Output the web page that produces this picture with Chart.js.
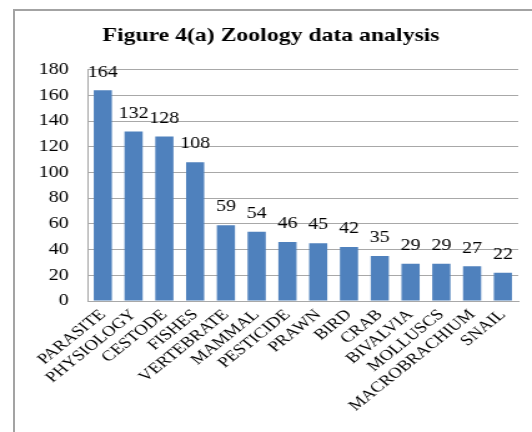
<!DOCTYPE html>
<html>
<head>
<meta charset="utf-8">
<script src="https://cdn.jsdelivr.net/npm/chart.js@4"></script>
<style>
  html, body { margin:0; padding:0; background:#fff; overflow:hidden; }
  #wrap  { position:relative; width:532px; height:432px; }
  #frame { position:absolute; left:13px; top:9px; right:0; bottom:0; border-left:2px solid #a3a3a3; border-top:2px solid #a3a3a3; }
  /* the source figure is stretched sideways; draw narrow and widen it the same way */
  #chart { position:absolute; left:0; top:0; transform:scaleX(1.2488); transform-origin:0 0; }
</style>
</head>
<body>
<div id="wrap">
  <div id="frame"></div>
  <canvas id="chart" width="426" height="432"></canvas>
</div>
<script>
const categories = ['PARASITE','PHYSIOLOGY','CESTODE','FISHES','VERTEBRATE','MAMMAL','PESTICIDE',
                    'PRAWN','BIRD','CRAB','BIVALVIA','MOLLUSCS','MACROBRACHIUM','SNAIL'];
const counts     = [164, 132, 128, 108, 59, 54, 46, 45, 42, 35, 29, 29, 27, 22];
const yTicks     = [0, 20, 40, 60, 80, 100, 120, 140, 160, 180];

const SERIF = "'Liberation Serif','Times New Roman',serif";
const GRID  = '#a8a8a8';

// value labels above each bar (Excel-style data labels)
const barLabels = {
  id: 'barLabels',
  afterDatasetsDraw(chart) {
    const ctx = chart.ctx;
    const meta = chart.getDatasetMeta(0);
    ctx.save();
    ctx.font = `16px ${SERIF}`;
    ctx.fillStyle = '#000';
    ctx.textAlign = 'center';
    ctx.textBaseline = 'bottom';
    meta.data.forEach((bar, i) => ctx.fillText(String(counts[i]), bar.x, bar.y - 10));
    ctx.restore();
  }
};

new Chart(document.getElementById('chart'), {
  type: 'bar',
  data: {
    labels: categories,
    datasets: [{ data: counts, backgroundColor: '#4F81BD', borderWidth: 0,
                 categoryPercentage: 1, barPercentage: 0.59 }]
  },
  options: {
    responsive: false, animation: false,
    layout: { padding: { left: 19, right: 11, top: 0, bottom: 0 } },
    plugins: {
      legend: { display: false },
      tooltip: { enabled: false },
      title: { display: true, text: 'Figure 4(a) Zoology data analysis', color: '#000',
               font: { family: SERIF, size: 19, weight: 'bold' }, padding: { top: 25, bottom: 22 } }
    },
    scales: {
      x: {
        grid: { display: false, drawTicks: false },
        border: { color: GRID, width: 1 },
        ticks: { color: '#000', font: { family: SERIF, size: 15 }, minRotation: 45, maxRotation: 45,
                 autoSkip: false, padding: 5 },
        afterFit: s => { s.height = 131; }
      },
      y: {
        min: 0, max: 180,
        afterBuildTicks: s => { s.ticks = yTicks.map(v => ({ value: v })); },
        grid: { color: GRID, drawTicks: false },
        border: { color: GRID, width: 1 },
        ticks: { color: '#000', font: { family: SERIF, size: 16 }, padding: 15 },
        afterFit: s => { s.width = 51; }
      }
    }
  },
  plugins: [barLabels]
});
</script>
</body>
</html>
